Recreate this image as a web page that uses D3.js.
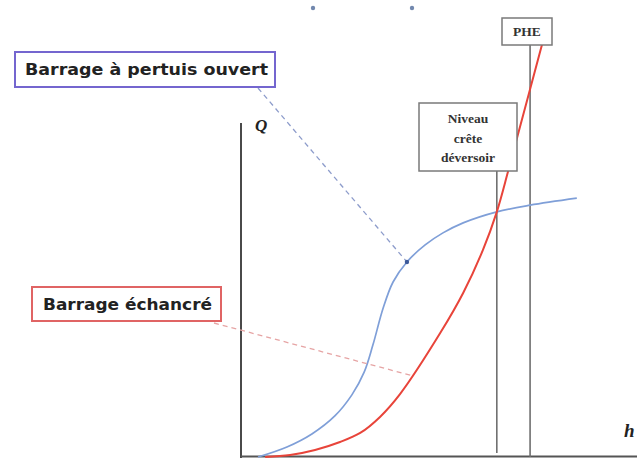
<!DOCTYPE html>
<html>
<head>
<meta charset="utf-8">
<script src="https://cdn.jsdelivr.net/npm/d3@7"></script>
<style>
html,body{margin:0;padding:0;background:#fff;}
svg{display:block;}
</style>
</head>
<body>
<script>
// ---- data (h = water level, Q = discharge, arbitrary units) ----
const hBlue = [0.43,1.16,1.79,2.37,2.80,3.11,3.33,3.59,3.84,4.19,4.65,5.10,5.61,6.46,7.30,8.48];
const qBlue = [0,0.30,0.69,1.23,1.86,2.54,3.35,4.46,5.24,5.84,6.35,6.71,7.01,7.34,7.54,7.75];
const hRed  = [0.61,1.24,1.87,2.50,3.01,3.51,4.02,5.03,5.61,6.11,6.46,6.74,6.99,7.60];
const qRed  = [0,0.06,0.21,0.45,0.72,1.20,1.89,3.71,4.91,6.20,7.34,8.53,9.64,12.34];
const levelNames = ["crest","PHE"];
const levelH = [6.46, 7.30];
const levelLabels = [["Niveau","crête","déversoir"],["PHE"]];
const seriesLabels = ["Barrage à pertuis ouvert","Barrage échancré"];
const calloutH = [4.19, 4.34];
const calloutQ = [5.84, 2.43];
const axisLabels = ["Q","h"];

const W = 637, H = 458;
const svg = d3.select("body").append("svg").attr("width", W).attr("height", H);

const x = d3.scaleLinear().domain([0,10]).range([241,637]);
const y = d3.scaleLinear().domain([0,10]).range([457,123]);

const line = d3.line().x(d=>x(d[0])).y(d=>y(d[1])).curve(d3.curveCatmullRom.alpha(0.5));
const blue = hBlue.map((h,i)=>[h,qBlue[i]]);
const red  = hRed.map((h,i)=>[h,qRed[i]]);

// stray marks at top
svg.selectAll("circle.stray").data([313,412]).enter().append("circle")
  .attr("cx", d=>d).attr("cy", 8).attr("r", 2.2).attr("fill", "#4f6a9a").attr("opacity",0.8);

// axes
svg.append("line").attr("x1", x(0)).attr("x2", x(0)).attr("y1", y(10)).attr("y2", y(0)+1)
  .attr("stroke","#4a4a4a").attr("stroke-width",2);
svg.append("line").attr("x1", x(0)).attr("x2", W).attr("y1", y(0)-0.5).attr("y2", y(0)-0.5)
  .attr("stroke","#555").attr("stroke-width",2);

svg.append("text").attr("x", x(0)+14).attr("y", y(10)+8).text(axisLabels[0])
  .attr("font-family","Liberation Serif").attr("font-style","italic").attr("font-weight","bold")
  .attr("font-size",17).attr("fill","#222");
svg.append("text").attr("x", 624).attr("y", 437).text(axisLabels[1])
  .attr("font-family","Liberation Serif").attr("font-style","italic").attr("font-weight","bold")
  .attr("font-size",19).attr("fill","#222");

// level vertical lines
svg.append("line").attr("x1", x(levelH[0])).attr("x2", x(levelH[0])).attr("y1", 171).attr("y2", 453)
  .attr("stroke","#6f6f6f").attr("stroke-width",1.6);
svg.append("line").attr("x1", x(levelH[1])).attr("x2", x(levelH[1])).attr("y1", 45).attr("y2", 457)
  .attr("stroke","#6f6f6f").attr("stroke-width",1.6);

// curves
svg.append("path").attr("d", line(blue)).attr("fill","none")
  .attr("stroke","#7f9fd8").attr("stroke-width",1.7);
svg.append("path").attr("d", line(red)).attr("fill","none")
  .attr("stroke","#e8443a").attr("stroke-width",2);

// leader lines
svg.append("line").attr("x1", 258).attr("y1", 88).attr("x2", x(calloutH[0])).attr("y2", y(calloutQ[0]))
  .attr("stroke","#8d9ccb").attr("stroke-width",1.3).attr("stroke-dasharray","5,4");
svg.append("circle").attr("cx", x(calloutH[0])).attr("cy", y(calloutQ[0])).attr("r",2.2).attr("fill","#3d5a9a");
svg.append("line").attr("x1", 214).attr("y1", 323).attr("x2", x(calloutH[1])).attr("y2", y(calloutQ[1]))
  .attr("stroke","#e6a4a4").attr("stroke-width",1.3).attr("stroke-dasharray","5,4");

// level label boxes
function serifBox(x0,y0,w,h,lines,baseY,step){
  svg.append("rect").attr("x",x0).attr("y",y0).attr("width",w).attr("height",h)
    .attr("fill","#fff").attr("stroke","#7a7a7a").attr("stroke-width",1.5);
  lines.forEach((t,i)=>{
    svg.append("text").attr("x", x0+w/2).attr("y", baseY+i*step).attr("text-anchor","middle")
      .attr("font-family","Liberation Serif").attr("font-weight","bold").attr("font-size",13.5)
      .attr("fill","#333").text(t);
  });
}
serifBox(419,103,98,68,levelLabels[0],123,19.5);
serifBox(502,18,50,27,levelLabels[1],36,0);

// series label boxes
function labelBox(x0,y0,w,h,txt,stroke,tx,tw){
  svg.append("rect").attr("x",x0).attr("y",y0).attr("width",w).attr("height",h)
    .attr("fill","#fff").attr("stroke",stroke).attr("stroke-width",2);
  svg.append("text").attr("x",tx).attr("y",y0+h/2+5.5).text(txt)
    .attr("font-family","DejaVu Sans").attr("font-weight","bold").attr("font-size",15)
    .attr("fill","#222").attr("textLength",tw).attr("lengthAdjust","spacingAndGlyphs");
}
labelBox(15,52,260,35,seriesLabels[0],"#7466cf",25,243);
labelBox(32,287,189,34,seriesLabels[1],"#e06464",43,169);
</script>
</body>
</html>
